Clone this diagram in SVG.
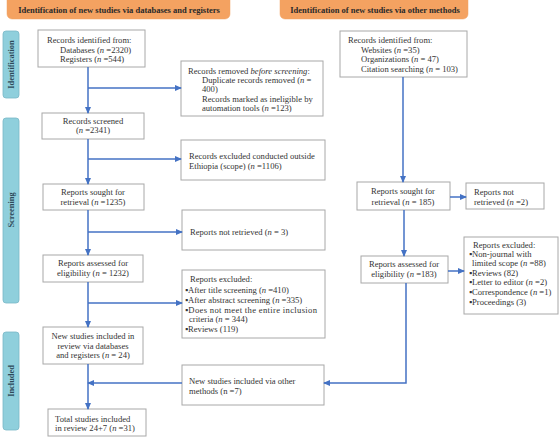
<svg xmlns="http://www.w3.org/2000/svg" width="560" height="437" viewBox="0 0 560 437">
<style>
.hdr{fill:#f4a261;stroke:#f0a060;stroke-width:0.5}
.ht{font-family:"Liberation Serif",serif;font-weight:bold;font-size:8.5px;fill:#2a2a2a;text-anchor:middle}
.side{fill:#8fcfdc;stroke:#7ab8c6;stroke-width:0.8}
.st{font-family:"Liberation Serif",serif;font-weight:bold;font-size:8.4px;fill:#2e4a5a;text-anchor:middle}
.box{fill:#fff;stroke:#a8a8a8;stroke-width:1}
.t{font-family:"Liberation Serif",serif;font-size:8.6px;fill:#333}
.c{text-anchor:middle}
.i{font-style:italic}
.ln{fill:none;stroke:#4472c4;stroke-width:1.5}
</style>
<defs>
<marker id="ah" markerUnits="userSpaceOnUse" markerWidth="7" markerHeight="6" refX="6" refY="3" orient="auto">
<path d="M0,0 L7,3 L0,6 z" fill="#4472c4"/>
</marker>
</defs>

<g id="headers">
<rect class="hdr" x="7" y="-5" width="223" height="24" rx="5"/>
<text class="ht" x="119" y="13">Identification of new studies via databases and registers</text>
<rect class="hdr" x="280" y="-5" width="188" height="24" rx="5"/>
<text class="ht" x="375" y="13">Identification of new studies via other methods</text>
</g>

<g id="phases">
<rect class="side" x="3" y="31" width="16" height="67" rx="3"/>
<text class="st" transform="translate(14,64.5) rotate(-90)">Identification</text>
<rect class="side" x="3" y="118" width="16" height="185" rx="3"/>
<text class="st" transform="translate(14,210) rotate(-90)">Screening</text>
<rect class="side" x="3" y="332" width="16" height="98" rx="3"/>
<text class="st" transform="translate(14,381) rotate(-90)">Included</text>
</g>

<g id="n1">
<rect class="box" x="38" y="30" width="107" height="37"/>
<text class="t" x="47" y="43">Records identified from:</text>
<text class="t" x="60" y="53">Databases (<tspan class="i">n</tspan> =2320)</text>
<text class="t" x="60" y="62">Registers (<tspan class="i">n</tspan> =544)</text>
</g>

<g id="n2">
<rect class="box" x="181" y="61" width="142" height="55"/>
<text class="t" x="188" y="74">Records removed <tspan class="i">before screening</tspan>:</text>
<text class="t" x="202" y="83">Duplicate records removed (<tspan class="i">n</tspan> =</text>
<text class="t" x="202" y="92">400)</text>
<text class="t" x="202" y="102">Records marked as ineligible by</text>
<text class="t" x="202" y="111">automation tools (<tspan class="i">n</tspan> =123)</text>
</g>

<g id="n3">
<rect class="box" x="340" y="31" width="127" height="46"/>
<text class="t" x="348" y="43">Records identified from:</text>
<text class="t" x="361" y="53">Websites (<tspan class="i">n</tspan> =35)</text>
<text class="t" x="361" y="62">Organizations (<tspan class="i">n</tspan> = 47)</text>
<text class="t" x="361" y="72">Citation searching (<tspan class="i">n</tspan> = 103)</text>
</g>

<g id="n4">
<rect class="box" x="42" y="113" width="102" height="26"/>
<text class="t c" x="93" y="124">Records screened</text>
<text class="t c" x="93" y="133">(<tspan class="i">n</tspan> =2341)</text>
</g>

<g id="n5">
<rect class="box" x="181" y="140" width="144" height="40"/>
<text class="t" x="189" y="159">Records excluded conducted outside</text>
<text class="t" x="189" y="169">Ethiopia (scope) (<tspan class="i">n</tspan> =1106)</text>
</g>

<g id="n6">
<rect class="box" x="43" y="184" width="101" height="26"/>
<text class="t c" x="93" y="195">Reports sought for</text>
<text class="t c" x="93" y="205">retrieval (<tspan class="i">n</tspan> =1235)</text>
</g>

<g id="n7">
<rect class="box" x="182" y="210" width="143" height="40"/>
<text class="t" x="190" y="235">Reports not retrieved (<tspan class="i">n</tspan> = 3)</text>
</g>

<g id="n8">
<rect class="box" x="357" y="182" width="93" height="28"/>
<text class="t c" x="403" y="194">Reports sought for</text>
<text class="t c" x="403" y="205">retrieval (<tspan class="i">n</tspan> = 185)</text>
</g>

<g id="n9">
<rect class="box" x="466" y="183" width="78" height="26"/>
<text class="t" x="474" y="195">Reports not</text>
<text class="t" x="474" y="205">retrieved (<tspan class="i">n</tspan> =2)</text>
</g>

<g id="n10">
<rect class="box" x="43" y="255" width="100" height="27"/>
<text class="t c" x="93" y="266">Reports assessed for</text>
<text class="t c" x="93" y="276">eligibility (<tspan class="i">n</tspan> = 1232)</text>
</g>

<g id="n11">
<rect class="box" x="182" y="270" width="143" height="68"/>
<text class="t" x="190" y="282">Reports excluded:</text>
<text class="t" x="185" y="293">▪After title screening (<tspan class="i">n</tspan> =410)</text>
<text class="t" x="185" y="303">▪After abstract screening (<tspan class="i">n</tspan> =335)</text>
<text class="t" x="185" y="313" textLength="132" lengthAdjust="spacing">▪Does not meet the entire inclusion</text>
<text class="t" x="189" y="322">criteria (<tspan class="i">n</tspan> = 344)</text>
<text class="t" x="185" y="332">▪Reviews (119)</text>
</g>

<g id="n12">
<rect class="box" x="361" y="256" width="87" height="27"/>
<text class="t c" x="404" y="267">Reports assessed for</text>
<text class="t c" x="404" y="277">eligibility (<tspan class="i">n</tspan> =183)</text>
</g>

<g id="n13">
<rect class="box" x="464" y="237" width="94" height="77"/>
<text class="t" x="473" y="248">Reports excluded:</text>
<text class="t" x="469" y="257">▪Non-journal with</text>
<text class="t" x="472" y="266">limited scope (<tspan class="i">n</tspan> =88)</text>
<text class="t" x="469" y="276">▪Reviews (82)</text>
<text class="t" x="469" y="285">▪Letter to editor (<tspan class="i">n</tspan> =2)</text>
<text class="t" x="469" y="295">▪Correspondence (<tspan class="i">n</tspan> =1)</text>
<text class="t" x="469" y="305">▪Proceedings (3)</text>
</g>

<g id="n14">
<rect class="box" x="43" y="327" width="100" height="37"/>
<text class="t c" x="93" y="339">New studies included in</text>
<text class="t c" x="93" y="349">review via databases</text>
<text class="t c" x="93" y="358">and registers (<tspan class="i">n</tspan> = 24)</text>
</g>

<g id="n15">
<rect class="box" x="182" y="365" width="142" height="40"/>
<text class="t" x="189" y="384">New studies included via other</text>
<text class="t" x="189" y="394">methods (n =7)</text>
</g>

<g id="n16">
<rect class="box" x="48" y="409" width="98" height="27"/>
<text class="t" x="55" y="422">Total studies included</text>
<text class="t" x="55" y="431">in review 24+7 (<tspan class="i">n</tspan> =31)</text>
</g>

<g id="connectors">
<path class="ln" d="M88,67 V113" marker-end="url(#ah)"/>
<path class="ln" d="M88,88 H181" marker-end="url(#ah)"/>
<path class="ln" d="M88,139 V184" marker-end="url(#ah)"/>
<path class="ln" d="M88,159 H181" marker-end="url(#ah)"/>
<path class="ln" d="M88,210 V255" marker-end="url(#ah)"/>
<path class="ln" d="M88,232 H182" marker-end="url(#ah)"/>
<path class="ln" d="M88,282 V327" marker-end="url(#ah)"/>
<path class="ln" d="M88,303 H182" marker-end="url(#ah)"/>
<path class="ln" d="M88,364 V409" marker-end="url(#ah)"/>
<path class="ln" d="M182,383 H88" marker-end="url(#ah)"/>
<path class="ln" d="M403,77 V182" marker-end="url(#ah)"/>
<path class="ln" d="M450,197 H466" marker-end="url(#ah)"/>
<path class="ln" d="M404,210 V256" marker-end="url(#ah)"/>
<path class="ln" d="M448,271 H464" marker-end="url(#ah)"/>
<path class="ln" d="M406,283 V383 H324" marker-end="url(#ah)"/>
</g>
</svg>
